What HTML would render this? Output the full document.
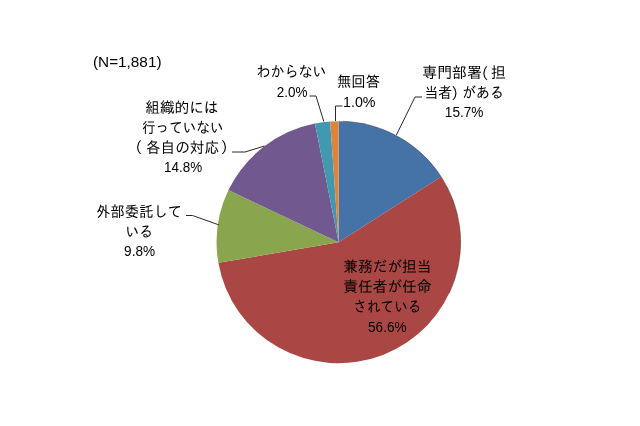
<!DOCTYPE html>
<html><head><meta charset="utf-8"><style>
html,body{margin:0;padding:0;background:#fff;}
body{width:640px;height:426px;overflow:hidden;position:relative;font-family:"Liberation Sans","IPAGothic","Noto Sans CJK JP",sans-serif;}
svg{position:absolute;left:0;top:0}
text{fill:#000}
text.j{font-family:"Liberation Sans","IPAGothic","Noto Sans CJK JP",sans-serif;font-size:15.3px}
text.n{font-family:"Liberation Sans",sans-serif;font-size:13.8px;fill:#000}
text.t{font-family:"Liberation Sans",sans-serif;font-size:14px}
.l{stroke:#111;stroke-width:0.9;fill:none}
</style></head><body>
<svg width="640" height="426" viewBox="0 0 640 426" xmlns="http://www.w3.org/2000/svg">
<path d="M338.6,242.2 L338.60,121.20 A122.0,121.0 0 0 1 441.14,176.63 Z" fill="#4572A7"/>
<path d="M338.6,242.2 L441.14,176.63 A122.0,121.0 0 1 1 218.39,262.84 Z" fill="#AA4643"/>
<path d="M338.6,242.2 L218.39,262.84 A122.0,121.0 0 0 1 228.48,190.12 Z" fill="#89A54E"/>
<path d="M338.6,242.2 L228.48,190.12 A122.0,121.0 0 0 1 314.96,123.49 Z" fill="#71588F"/>
<path d="M338.6,242.2 L314.96,123.49 A122.0,121.0 0 0 1 330.17,121.49 Z" fill="#4198AF"/>
<path d="M338.6,242.2 L330.17,121.49 A122.0,121.0 0 0 1 338.60,121.20 Z" fill="#DB843D"/>
<path d="M342.86,121.27 A122.0,121.0 0 0 1 449.17,293.34" fill="none" stroke="#1a1a2a" stroke-opacity="0.45" stroke-width="0.9"/>
<g class="l">
<polyline points="232,152 245,152 264.5,146"/>
<polyline points="186,215.5 192.5,215.5 218.7,224.8"/>
<polyline points="309.5,96 316,96 323.8,121.5"/>
<polyline points="342.5,106 335.5,106 335.5,121"/>
<polyline points="422,97 415,97 396.4,135"/>
</g>
<text class="t" x="93.00" y="67.00" textLength="68.50" lengthAdjust="spacingAndGlyphs">(N=1,881)</text>
<text class="j" x="145.25" y="113.20" textLength="73.25" lengthAdjust="spacingAndGlyphs">組織的には</text>
<text class="j" x="142.00" y="132.70" textLength="81.50" lengthAdjust="spacingAndGlyphs">行っていない</text>
<text class="j" x="127.10" y="153.00">（</text>
<text class="j" x="146.00" y="152.70" textLength="73.10" lengthAdjust="spacingAndGlyphs">各自の対応</text>
<text class="j" x="220.80" y="153.00">）</text>
<text class="n" x="164.00" y="172.20" textLength="38.10" lengthAdjust="spacingAndGlyphs">14.8%</text>
<text class="j" x="96.30" y="217.30" textLength="85.70" lengthAdjust="spacingAndGlyphs">外部委託して</text>
<text class="j" x="125.50" y="237.45" textLength="27.50" lengthAdjust="spacingAndGlyphs">いる</text>
<text class="n" x="124.10" y="255.60" textLength="31.00" lengthAdjust="spacingAndGlyphs">9.8%</text>
<text class="j" x="256.50" y="77.45" textLength="70.00" lengthAdjust="spacingAndGlyphs">わからない</text>
<text class="n" x="276.80" y="97.00" textLength="30.70" lengthAdjust="spacingAndGlyphs">2.0%</text>
<text class="j" x="337.00" y="87.45" textLength="43.00" lengthAdjust="spacingAndGlyphs">無回答</text>
<text class="n" x="343.05" y="107.00" textLength="32.45" lengthAdjust="spacingAndGlyphs">1.0%</text>
<text class="j" x="422.30" y="78.20" textLength="59.60" lengthAdjust="spacingAndGlyphs">専門部署</text>
<text class="j" x="473.35" y="78.50">（</text>
<text class="j" x="491.00" y="78.20" textLength="14.80" lengthAdjust="spacingAndGlyphs">担</text>
<text class="j" x="424.50" y="98.20" textLength="27.70" lengthAdjust="spacingAndGlyphs">当者</text>
<text class="j" x="451.30" y="98.50">）</text>
<text class="j" x="462.20" y="98.20" textLength="41.60" lengthAdjust="spacingAndGlyphs">がある</text>
<text class="n" x="444.80" y="117.00" textLength="38.70" lengthAdjust="spacingAndGlyphs">15.7%</text>
<text class="j" x="343.25" y="272.45" textLength="88.25" lengthAdjust="spacingAndGlyphs">兼務だが担当</text>
<text class="j" x="343.25" y="292.45" textLength="88.25" lengthAdjust="spacingAndGlyphs">責任者が任命</text>
<text class="j" x="353.25" y="312.45" textLength="68.25" lengthAdjust="spacingAndGlyphs">されている</text>
<text class="n" x="368.05" y="332.00" textLength="38.45" lengthAdjust="spacingAndGlyphs">56.6%</text>
</svg>
</body></html>
